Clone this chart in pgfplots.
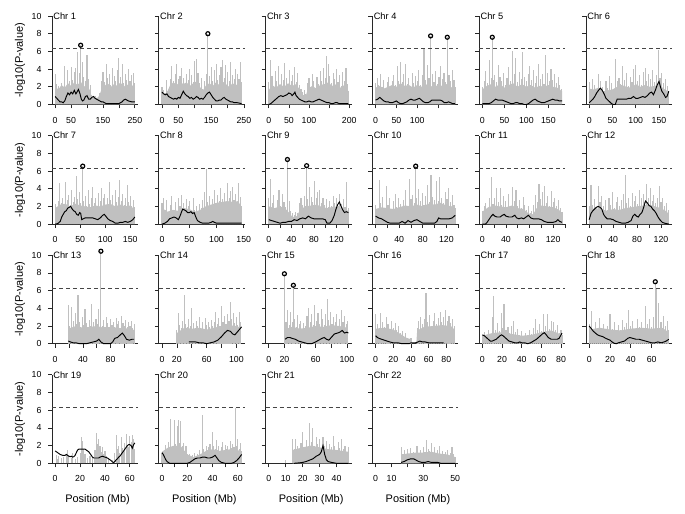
\documentclass[border=0pt]{standalone}
\usepackage{pgfplots}
\pgfplotsset{compat=1.18}
\usepackage{fontspec}
\setmainfont{Liberation Sans}
\definecolor{spk}{RGB}{192,192,192}
\definecolor{axc}{RGB}{40,40,40}
\definecolor{thrc}{RGB}{70,70,70}
\pgfplotsset{
  panel/.style={
    scale only axis, width=86bp, height=88.5bp, anchor=south west,
    ymin=0, ymax=10, ytick={0,2,4,6,8,10}, yticklabels={},
    axis x line*=bottom, axis y line*=left,
    axis line style={draw=axc, line width=0.7bp, -},
    every tick/.style={draw=axc, line width=0.7bp},
    tick align=outside, major tick length=4bp,
    tick label style={font=\fontsize{8.8}{10}\selectfont, text=black},
    xticklabel style={yshift=-5bp},
    yticklabel style={xshift=-3bp},
    clip=false,
    /pgf/number format/assume math mode=true,
    label style={font=\fontsize{11}{12}\selectfont},
  },
  firstcol/.style={yticklabels={0,2,4,6,8,10}, ylabel={-log10(P-value)},
    ylabel style={at={(axis description cs:-0.372,0.5)}, anchor=center}},
  lastrow/.style={xlabel={Position (Mb)},
    xlabel style={at={(axis description cs:0.53,0)}, anchor=center, yshift=-36.5bp}},
  spikes/.style={ycomb, draw=spk, line width=1.1bp, mark=none},
  base/.style={fill=spk, draw=none, mark=none},
  smooth line/.style={black, line width=0.95bp, mark=none},
  hits/.style={only marks, mark=o, mark size=2bp, black, line width=1.2bp},
  thrline/.style={thrc, dash pattern=on 4bp off 3bp, line width=0.8bp, mark=none},
}
\newcommand\chrtitle[1]{\node[anchor=west, font=\fontsize{9.3}{10}\selectfont, inner sep=1.2bp] at (rel axis cs:0,1) {#1};}
\begin{document}
\begin{tikzpicture}
\useasboundingbox (0,0) rectangle (685bp,514bp);

% ---------------- Row 1 ----------------
\begin{axis}[panel, firstcol, at={(52bp,409.5bp)}, xmin=-10, xmax=260,
  xtick={0,50,100,150,200,250}, xticklabels={0,50,,150,,250}]
\addplot[base] coordinates {(0,2.0)(10,1.7)(20,2.2)(30,1.9)(40,2.4)(50,2.1)(60,2.5)(70,2.2)(80,2.6)(90,2.0)(100,2.3)(110,1.5)(115,0.8)(125,0.7)(135,0.8)(145,1.6)(155,2.1)(165,2.4)(175,2.0)(185,2.3)(195,2.1)(205,2.5)(215,2.0)(225,2.3)(235,1.9)(245,2.2)(250,1.8)} \closedcycle;
\addplot[spikes] coordinates {(0,3.5)(5,2.3)(10,2.1)(15,1.9)(20,2.4)(25,1.6)(30,4.4)(35,2.0)(40,3.9)(45,2.6)(50,4.2)(55,2.8)(60,3.7)(65,4.1)(70,5.9)(75,3.6)(80,6.7)(85,4.8)(90,3.1)(95,2.7)(100,5.6)(105,2.9)(110,2.2)(115,1.1)(120,0.7)(125,1.0)(130,0.6)(135,0.9)(140,1.3)(145,2.6)(150,3.7)(155,2.5)(160,4.6)(165,3.0)(170,3.4)(175,2.2)(180,4.1)(185,3.2)(190,2.6)(195,3.9)(200,5.3)(205,3.1)(210,4.6)(215,2.4)(220,3.5)(225,2.8)(230,4.0)(235,2.7)(240,3.3)(245,3.6)(250,2.4)};
\addplot[thrline] coordinates {(-10,6.3)(260,6.3)};
\addplot[smooth line] coordinates {(0,0.9)(5,0.7)(10,0.5)(15,0.3)(20,0.3)(25,0.2)(30,0.4)(35,0.9)(40,1.3)(45,1.1)(50,1.4)(55,1.2)(60,1.6)(65,1.2)(70,1.5)(73,1.7)(78,1.2)(82,0.6)(86,0.4)(90,0.5)(95,0.9)(100,1.0)(105,0.6)(110,0.6)(115,0.8)(120,0.9)(125,0.7)(130,0.6)(135,0.5)(140,0.4)(145,0.3)(150,0.3)(155,0.2)(160,0.1)(170,0.1)(180,0.1)(190,0.1)(200,0.1)(205,0.2)(210,0.3)(215,0.5)(220,0.6)(225,0.5)(230,0.4)(240,0.3)(250,0.3)};
\addplot[hits] coordinates {(80,6.7)};
\chrtitle{Chr 1}
\end{axis}

\begin{axis}[panel, at={(158.8bp,409.5bp)}, xmin=-9.72, xmax=252.72,
  xtick={0,50,100,150,200,250}, xticklabels={0,50,,150,,250}]
\addplot[base] coordinates {(0,1.4)(10,1.2)(18,1.6)(25,2.2)(35,2.5)(45,2.2)(55,2.6)(65,2.3)(75,2.5)(85,2.1)(95,2.4)(105,2.6)(115,2.0)(125,1.6)(135,2.2)(145,2.4)(155,2.1)(165,2.5)(175,2.2)(185,2.6)(195,2.3)(205,2.0)(215,2.4)(225,2.2)(235,2.3)(243,1.8)} \closedcycle;
\addplot[spikes] coordinates {(0,2.0)(5,1.6)(10,1.3)(15,2.8)(20,1.5)(25,2.9)(30,4.3)(35,2.6)(40,3.4)(45,4.6)(50,2.9)(55,3.2)(60,4.1)(65,3.0)(70,2.2)(75,3.5)(80,2.8)(85,4.0)(90,3.3)(95,2.5)(100,4.9)(105,5.1)(110,3.6)(115,2.4)(120,3.0)(125,1.8)(130,2.7)(135,3.4)(140,8.0)(145,3.2)(150,4.2)(155,2.6)(160,3.9)(165,4.6)(170,2.8)(175,3.3)(180,4.2)(185,5.0)(190,3.0)(195,4.5)(200,3.7)(205,2.6)(210,4.8)(215,3.3)(220,2.9)(225,4.0)(230,3.5)(235,2.9)(240,4.8)(243,2.5)};
\addplot[thrline] coordinates {(-9.72,6.3)(252.72,6.3)};
\addplot[smooth line] coordinates {(0,1.4)(5,1.2)(10,1.1)(15,1.2)(20,0.9)(25,0.8)(30,0.7)(35,0.6)(40,0.7)(45,0.6)(50,0.8)(55,0.7)(60,1.1)(65,1.5)(70,1.2)(75,1.0)(80,0.9)(85,0.7)(90,0.8)(95,0.6)(100,0.7)(105,0.9)(110,0.8)(115,0.6)(120,0.7)(125,0.6)(130,0.8)(135,1.1)(140,1.3)(145,1.4)(150,1.1)(155,0.8)(160,0.6)(165,0.4)(170,0.4)(175,0.5)(180,0.5)(185,0.7)(190,0.8)(195,0.6)(200,0.5)(205,0.4)(210,0.3)(215,0.3)(220,0.2)(230,0.2)(243,0.1)};
\addplot[hits] coordinates {(140,8.0)};
\chrtitle{Chr 2}
\end{axis}

\begin{axis}[panel, at={(265.6bp,409.5bp)}, xmin=-7.92, xmax=205.92,
  xtick={0,50,100,150,200}, xticklabels={0,50,100,,200}]
\addplot[base] coordinates {(0,1.6)(8,2.2)(18,1.9)(28,2.3)(38,2.0)(48,2.4)(58,2.1)(68,2.3)(78,1.6)(84,1.1)(92,1.0)(98,1.8)(108,2.1)(118,1.8)(128,2.2)(138,2.3)(148,2.5)(158,2.1)(168,2.3)(178,1.9)(188,2.2)(198,1.5)} \closedcycle;
\addplot[spikes] coordinates {(0,2.5)(4,5.0)(8,3.2)(12,2.1)(16,3.8)(20,2.6)(24,4.4)(28,2.0)(32,3.5)(36,2.8)(40,4.7)(44,3.0)(48,2.3)(52,3.9)(56,2.7)(60,3.3)(64,4.2)(68,2.5)(72,3.6)(76,2.2)(80,1.8)(84,1.4)(88,1.6)(92,1.2)(96,2.4)(100,3.0)(104,2.0)(108,3.4)(112,2.6)(116,1.9)(120,3.1)(124,2.3)(128,3.8)(132,2.7)(136,4.1)(140,3.0)(144,5.5)(148,4.6)(152,3.2)(156,2.4)(160,3.6)(164,2.9)(168,4.0)(172,2.5)(176,3.3)(180,2.1)(184,3.7)(188,2.6)(192,4.1)(196,2.3)(198,1.5)};
\addplot[thrline] coordinates {(-7.92,6.3)(205.92,6.3)};
\addplot[smooth line] coordinates {(0,0)(5,0.1)(10,0.3)(15,0.5)(20,0.7)(25,0.9)(30,1.0)(35,0.9)(40,1.0)(45,1.1)(50,1.3)(55,1.2)(58,1.0)(62,1.2)(65,1.4)(68,1.0)(72,0.8)(76,0.6)(80,0.5)(85,0.4)(90,0.3)(95,0.3)(100,0.4)(105,0.3)(110,0.3)(115,0.4)(120,0.5)(125,0.6)(130,0.5)(135,0.4)(140,0.3)(145,0.2)(150,0.2)(155,0.1)(160,0.1)(165,0.2)(170,0.2)(175,0.1)(180,0.1)(185,0.1)(190,0.1)(198,0.1)};
\chrtitle{Chr 3}
\end{axis}

\begin{axis}[panel, at={(372.4bp,409.5bp)}, xmin=-7.64, xmax=198.64,
  xtick={0,50,100,150}, xticklabels={0,50,100,}]
\addplot[base] coordinates {(0,1.9)(10,2.1)(20,1.8)(30,2.0)(40,2.2)(50,2.0)(60,2.4)(70,2.1)(80,2.2)(90,1.9)(100,2.2)(110,2.0)(120,2.3)(130,2.1)(140,2.0)(150,2.2)(160,2.1)(170,2.3)(180,2.0)(191,1.7)} \closedcycle;
\addplot[spikes] coordinates {(0,2.4)(4,3.0)(8,2.2)(12,3.4)(16,2.0)(20,2.8)(24,1.9)(28,2.5)(32,3.1)(36,2.0)(40,2.7)(44,3.3)(48,2.2)(52,4.3)(56,2.6)(60,4.8)(64,2.5)(68,3.5)(72,4.6)(76,2.3)(80,3.0)(84,2.1)(88,3.6)(92,2.4)(96,3.2)(100,2.6)(104,3.9)(108,2.2)(112,3.3)(116,6.3)(120,2.8)(124,4.5)(128,3.0)(132,7.75)(136,3.4)(140,2.5)(144,3.8)(148,2.3)(152,3.1)(156,4.3)(160,2.9)(164,3.6)(168,2.5)(172,7.6)(176,3.3)(180,2.6)(184,3.9)(188,2.8)(191,2.0)};
\addplot[thrline] coordinates {(-7.64,6.3)(198.64,6.3)};
\addplot[smooth line] coordinates {(0,0.5)(5,0.6)(10,0.8)(15,0.6)(20,0.4)(25,0.3)(30,0.3)(35,0.2)(40,0.2)(45,0.3)(50,0.4)(55,0.2)(60,0.1)(65,0.1)(70,0.2)(75,0.3)(80,0.5)(85,0.6)(90,0.5)(95,0.5)(100,0.6)(105,0.7)(110,0.5)(115,0.3)(120,0.2)(125,0.2)(130,0.3)(135,0.5)(140,0.5)(145,0.5)(150,0.5)(155,0.5)(160,0.4)(165,0.2)(170,0.2)(175,0.3)(180,0.2)(185,0.1)(191,0.1)};
\addplot[hits] coordinates {(132,7.75)(172,7.6)};
\chrtitle{Chr 4}
\end{axis}

\begin{axis}[panel, at={(479.2bp,409.5bp)}, xmin=-7.24, xmax=188.24,
  xtick={0,50,100,150}, xticklabels={0,50,100,150}]
\addplot[base] coordinates {(0,1.7)(10,2.1)(20,2.3)(30,2.0)(40,2.3)(50,1.9)(60,2.2)(70,2.4)(80,2.0)(90,2.3)(100,2.0)(110,2.2)(120,1.9)(130,2.1)(140,2.0)(150,2.2)(160,2.0)(170,1.9)(181,1.5)} \closedcycle;
\addplot[spikes] coordinates {(0,2.0)(4,2.6)(8,3.8)(12,2.4)(16,5.0)(20,3.0)(22.5,7.6)(25,2.8)(28,3.3)(32,2.5)(36,4.5)(40,3.1)(44,2.6)(48,3.6)(52,2.2)(56,3.0)(60,4.2)(64,2.7)(68,6.0)(72,3.4)(76,5.2)(80,2.5)(84,3.7)(88,2.9)(92,5.9)(96,3.1)(100,2.6)(104,3.5)(108,4.4)(112,2.8)(116,3.9)(120,2.4)(124,3.2)(128,4.6)(132,2.9)(136,3.4)(140,2.3)(144,5.6)(148,3.6)(152,2.6)(156,4.0)(160,2.8)(164,3.5)(168,2.4)(172,3.1)(176,2.2)(180,1.8)};
\addplot[thrline] coordinates {(-7.24,6.3)(188.24,6.3)};
\addplot[smooth line] coordinates {(0,0.1)(5,0.1)(10,0.1)(15,0.1)(20,0.2)(25,0.4)(30,0.6)(35,0.5)(40,0.5)(45,0.5)(50,0.4)(55,0.3)(60,0.2)(65,0.1)(70,0.1)(75,0.2)(80,0.2)(85,0.1)(90,0.1)(95,0.0)(100,0.0)(105,0.1)(110,0.3)(115,0.5)(120,0.6)(125,0.4)(130,0.3)(135,0.2)(140,0.2)(145,0.3)(150,0.4)(155,0.5)(160,0.6)(165,0.5)(170,0.5)(175,0.4)(181,0.4)};
\addplot[hits] coordinates {(22.5,7.6)};
\chrtitle{Chr 5}
\end{axis}

\begin{axis}[panel, at={(586bp,409.5bp)}, xmin=-6.84, xmax=177.84,
  xtick={0,50,100,150}, xticklabels={0,50,100,150}]
\addplot[base] coordinates {(0,1.8)(10,1.7)(20,1.9)(30,1.5)(40,1.6)(50,1.7)(60,2.0)(70,2.2)(80,2.0)(90,1.9)(100,2.3)(110,2.0)(120,2.2)(130,2.0)(140,2.1)(150,2.2)(160,1.8)(171,1.4)} \closedcycle;
\addplot[spikes] coordinates {(0,2.5)(4,1.8)(8,2.9)(12,2.2)(16,1.6)(20,3.4)(24,2.6)(28,2.0)(32,1.5)(36,2.7)(40,1.9)(44,3.2)(48,2.4)(52,1.7)(56,5.1)(60,2.6)(64,3.0)(68,2.3)(72,4.3)(76,2.8)(80,3.6)(84,2.1)(88,3.1)(92,2.5)(96,4.0)(100,4.5)(104,2.7)(108,3.3)(112,2.2)(116,3.7)(120,4.1)(124,2.6)(128,3.4)(132,2.9)(136,3.9)(140,2.5)(144,3.3)(148,6.2)(152,3.0)(156,3.6)(160,2.4)(164,2.9)(168,2.1)(171,1.5)};
\addplot[thrline] coordinates {(-6.84,6.3)(177.84,6.3)};
\addplot[smooth line] coordinates {(0,0.2)(4,0.4)(8,0.6)(12,0.9)(16,1.3)(20,1.6)(24,1.85)(28,1.6)(32,1.2)(36,0.7)(40,0.5)(44,0.3)(48,0.1)(52,0.0)(56,0.0)(60,0.6)(65,0.6)(70,0.6)(75,0.6)(80,0.6)(85,0.7)(90,0.7)(95,0.9)(100,0.7)(105,0.7)(110,0.8)(115,0.9)(120,0.8)(125,1.0)(130,1.3)(134,1.4)(138,1.1)(142,1.6)(146,2.2)(150,2.6)(153,2.0)(156,1.5)(160,1.2)(164,0.8)(167,0.9)(171,1.5)};
\chrtitle{Chr 6}
\end{axis}

% ---------------- Row 2 ----------------
\begin{axis}[panel, firstcol, at={(52bp,289.9bp)}, xmin=-6.36, xmax=165.36,
  xtick={0,50,100,150}, xticklabels={0,50,100,150}]
\addplot[base] coordinates {(0,1.8)(10,2.2)(20,2.3)(30,2.0)(40,2.3)(50,2.1)(60,2.0)(70,1.9)(80,2.1)(90,2.0)(100,2.2)(110,2.3)(120,2.0)(130,2.2)(140,2.0)(150,2.1)(159,1.6)} \closedcycle;
\addplot[spikes] coordinates {(0,2.3)(3,1.8)(6,2.6)(9,4.7)(12,2.4)(15,3.0)(18,1.9)(21,4.8)(24,2.7)(27,3.3)(30,2.2)(33,3.9)(36,2.5)(39,3.1)(42,5.4)(45,2.8)(48,3.6)(51,2.4)(55,6.55)(57,2.6)(60,3.2)(63,2.0)(66,3.8)(69,2.3)(72,2.9)(75,4.2)(78,2.4)(81,3.0)(84,2.1)(87,3.5)(90,2.6)(93,4.1)(96,2.9)(99,3.4)(102,2.2)(105,3.0)(108,4.8)(111,2.7)(114,3.3)(117,2.1)(120,3.8)(123,2.5)(126,3.1)(129,5.0)(132,2.6)(135,3.4)(138,2.2)(141,3.0)(144,4.4)(147,2.5)(150,3.2)(153,2.0)(156,2.7)(159,1.9)};
\addplot[thrline] coordinates {(-6.36,6.3)(165.36,6.3)};
\addplot[smooth line] coordinates {(0,0)(5,0.05)(10,0.3)(13,0.8)(16,1.1)(19,1.4)(22,1.5)(25,1.8)(28,1.9)(31,2.0)(34,1.7)(37,1.5)(40,1.4)(43,1.1)(46,1.0)(49,1.3)(51,1.2)(53,0.5)(56,0.6)(60,0.7)(65,0.7)(70,0.7)(75,0.7)(80,0.6)(85,0.5)(90,0.7)(95,1.0)(98,1.1)(101,0.9)(105,0.6)(110,0.4)(115,0.3)(120,0.1)(125,0.1)(130,0.2)(135,0.2)(140,0.3)(145,0.2)(150,0.3)(155,0.5)(159,0.8)};
\addplot[hits] coordinates {(55,6.55)};
\chrtitle{Chr 7}
\end{axis}

\begin{axis}[panel, at={(158.8bp,289.9bp)}, xmin=-5.84, xmax=151.84,
  xtick={0,50,100,150}, xticklabels={0,50,100,150}]
\addplot[base] coordinates {(0,1.8)(10,1.4)(20,1.6)(30,1.5)(40,1.8)(50,1.7)(60,1.4)(70,1.6)(80,2.0)(90,2.2)(100,2.4)(110,2.5)(120,2.6)(130,2.5)(140,2.6)(146,1.8)} \closedcycle;
\addplot[spikes] coordinates {(0,2.4)(3,3.0)(6,1.6)(9,2.7)(12,1.3)(15,2.2)(18,3.2)(21,1.5)(24,2.5)(27,1.2)(30,2.9)(33,2.0)(36,3.3)(39,2.4)(42,1.8)(45,2.8)(48,2.1)(51,2.6)(54,1.4)(57,2.9)(60,1.6)(63,2.0)(66,1.1)(69,2.3)(72,1.8)(75,2.7)(78,3.6)(81,6.2)(84,2.5)(87,3.2)(90,2.0)(93,2.8)(96,3.9)(99,2.4)(102,3.3)(105,2.6)(108,4.1)(111,2.8)(114,3.5)(117,2.3)(120,4.6)(123,3.0)(126,3.7)(129,4.2)(132,2.7)(135,3.4)(138,2.5)(141,4.6)(144,3.1)(146,2.0)};
\addplot[thrline] coordinates {(-5.84,6.3)(151.84,6.3)};
\addplot[smooth line] coordinates {(0,0)(5,0.1)(10,0.3)(14,0.6)(18,0.7)(22,0.8)(26,0.7)(30,0.5)(33,0.9)(36,1.4)(38,1.7)(41,1.6)(44,1.5)(47,1.3)(50,1.3)(53,1.4)(56,1.2)(59,1.3)(62,0.8)(65,0.4)(70,0.2)(75,0.1)(80,0.1)(85,0.1)(90,0.2)(93,0.3)(96,0.2)(100,0.1)(110,0.1)(120,0.1)(130,0.1)(140,0.1)(146,0.1)};
\chrtitle{Chr 8}
\end{axis}

\begin{axis}[panel, at={(265.6bp,289.9bp)}, xmin=-5.64, xmax=146.64,
  xtick={0,20,40,60,80,100,120,140}, xticklabels={0,,40,,80,,120,}]
\addplot[base] coordinates {(0,2.0)(10,1.8)(20,2.0)(30,1.7)(37,1.2)(42,0.8)(50,0.9)(55,1.6)(65,2.0)(75,2.1)(85,2.2)(95,1.9)(105,1.8)(115,2.0)(125,1.9)(135,1.8)(141,1.4)} \closedcycle;
\addplot[spikes] coordinates {(0,3.0)(3,5.1)(6,2.4)(9,3.3)(12,1.8)(15,2.7)(18,3.9)(21,2.1)(24,3.4)(27,2.5)(30,1.9)(33,7.3)(36,2.6)(39,1.5)(42,1.2)(45,1.0)(48,1.4)(51,1.3)(54,2.4)(57,3.0)(60,2.2)(63,3.2)(65,2.0)(67,6.6)(69,2.8)(72,4.2)(75,3.1)(78,2.5)(81,4.9)(84,2.9)(87,3.6)(90,3.9)(93,2.4)(96,3.0)(99,2.2)(102,2.8)(105,1.9)(108,2.6)(111,2.1)(114,3.2)(117,2.4)(120,2.9)(123,2.0)(126,3.4)(129,2.3)(132,2.8)(135,1.9)(138,4.8)(141,1.8)};
\addplot[thrline] coordinates {(-5.64,6.3)(146.64,6.3)};
\addplot[smooth line] coordinates {(0,0.5)(5,0.4)(10,0.3)(15,0.2)(20,0.1)(25,0.2)(30,0.2)(35,0.3)(40,0.3)(45,0.5)(50,0.4)(55,0.6)(60,0.7)(65,0.6)(70,0.9)(75,0.7)(80,0.6)(85,0.6)(90,0.6)(95,0.6)(100,0.5)(103,0.1)(108,0.1)(112,0.4)(116,1.0)(119,1.7)(122,2.2)(125,2.5)(128,2.0)(131,1.6)(134,1.3)(137,1.4)(141,1.3)};
\addplot[hits] coordinates {(33,7.3)(67,6.6)};
\chrtitle{Chr 9}
\end{axis}

\begin{axis}[panel, at={(372.4bp,289.9bp)}, xmin=-5.4, xmax=140.4,
  xtick={0,20,40,60,80,100,120,140}, xticklabels={0,,40,,80,,120,}]
\addplot[base] coordinates {(0,1.7)(10,1.9)(20,1.8)(30,1.7)(40,1.9)(50,2.1)(60,2.0)(70,2.2)(80,2.0)(90,2.3)(100,2.2)(110,2.4)(120,2.1)(130,2.0)(135,1.6)} \closedcycle;
\addplot[spikes] coordinates {(0,2.2)(3,1.6)(6,5.0)(9,2.4)(12,3.1)(15,1.8)(18,4.3)(21,2.2)(24,3.0)(27,1.7)(30,2.6)(33,3.4)(36,1.9)(39,2.9)(42,2.3)(45,1.5)(48,2.7)(51,3.8)(54,2.1)(57,5.1)(60,2.8)(63,3.3)(66,2.4)(68,6.55)(70,3.0)(73,4.0)(76,2.6)(79,3.5)(82,2.2)(85,3.2)(88,4.4)(91,2.5)(94,5.5)(97,3.1)(100,2.7)(103,4.9)(106,2.6)(109,5.3)(112,3.0)(115,2.4)(118,3.6)(121,2.8)(124,4.1)(127,2.5)(130,3.3)(133,2.2)(135,1.8)};
\addplot[thrline] coordinates {(-5.4,6.3)(140.4,6.3)};
\addplot[smooth line] coordinates {(0,0.9)(5,0.7)(10,0.6)(15,0.4)(20,0.2)(25,0.1)(30,0.1)(35,0.1)(40,0.1)(45,0.3)(50,0.1)(55,0.4)(60,0.2)(65,0.4)(70,0.5)(75,0.3)(80,0.1)(85,0.1)(90,0.1)(95,0.1)(100,0.1)(104,0.3)(107,0.7)(110,0.6)(115,0.6)(120,0.6)(125,0.6)(130,0.7)(135,1.0)};
\addplot[hits] coordinates {(68,6.55)};
\chrtitle{Chr 10}
\end{axis}

\begin{axis}[panel, at={(479.2bp,289.9bp)}, xmin=-5.4, xmax=140.4,
  xtick={0,20,40,60,80,100,120,140}, xticklabels={0,,40,,80,,120,}]
\addplot[base] coordinates {(0,1.4)(10,1.9)(20,2.1)(30,2.0)(40,1.9)(50,2.1)(60,1.8)(70,1.7)(78,1.2)(86,1.1)(92,1.8)(100,2.1)(110,2.0)(120,1.9)(130,1.6)(135,1.2)} \closedcycle;
\addplot[spikes] coordinates {(0,1.5)(3,2.0)(6,2.4)(9,1.7)(12,2.9)(15,5.3)(18,2.3)(21,3.0)(24,4.1)(27,2.5)(30,4.1)(33,2.2)(36,3.2)(39,2.6)(42,1.9)(45,3.4)(48,2.1)(51,4.2)(54,2.6)(57,3.8)(60,2.0)(63,2.7)(66,1.8)(69,3.1)(72,2.2)(75,1.6)(78,2.0)(81,1.3)(84,1.5)(87,2.2)(90,3.3)(93,2.5)(96,4.5)(99,2.8)(102,3.6)(105,4.3)(108,2.4)(111,3.2)(114,2.1)(117,3.7)(120,2.5)(123,3.0)(126,2.0)(129,2.7)(132,1.8)(135,1.4)};
\addplot[thrline] coordinates {(-5.4,6.3)(140.4,6.3)};
\addplot[smooth line] coordinates {(0,0)(5,0)(8,0.2)(12,0.6)(15,0.9)(18,1.1)(21,0.9)(25,0.8)(30,0.8)(34,1.0)(37,1.1)(40,0.9)(45,0.8)(50,0.8)(55,1.0)(58,0.7)(62,0.6)(66,0.7)(70,0.6)(74,0.8)(78,1.0)(82,0.7)(86,0.6)(90,0.6)(95,0.6)(100,0.5)(105,0.3)(110,0.2)(115,0.2)(120,0.2)(125,0.3)(128,0.5)(131,0.3)(135,0.2)};
\chrtitle{Chr 11}
\end{axis}

\begin{axis}[panel, at={(586bp,289.9bp)}, xmin=-5.32, xmax=138.32,
  xtick={0,20,40,60,80,100,120}, xticklabels={0,,40,,80,,120}]
\addplot[base] coordinates {(0,1.6)(10,1.8)(20,1.7)(30,1.5)(40,1.7)(50,1.6)(60,1.8)(70,1.9)(80,2.0)(90,2.1)(100,2.2)(110,2.0)(120,1.8)(130,1.4)(133,1.0)} \closedcycle;
\addplot[spikes] coordinates {(0,2.0)(3,4.4)(6,2.2)(9,2.8)(12,1.9)(15,4.3)(18,2.5)(21,3.2)(24,2.0)(27,2.7)(30,1.6)(33,2.9)(36,2.2)(39,3.6)(42,1.8)(45,2.5)(48,3.1)(51,2.0)(54,2.7)(57,3.4)(60,5.5)(63,2.4)(66,3.0)(69,2.1)(72,3.5)(75,2.6)(78,3.2)(81,2.3)(84,3.8)(87,2.9)(90,3.4)(93,2.5)(96,4.5)(99,3.0)(102,4.1)(105,2.6)(108,3.3)(111,2.4)(114,3.0)(117,4.3)(120,2.5)(123,2.9)(126,2.0)(129,2.4)(132,1.6)(133,1.2)};
\addplot[thrline] coordinates {(-5.32,6.3)(138.32,6.3)};
\addplot[smooth line] coordinates {(0,0.5)(3,1.2)(6,1.5)(9,1.7)(12,1.9)(15,2.0)(18,1.9)(21,1.7)(24,1.1)(27,0.8)(30,0.6)(35,0.6)(40,0.5)(45,0.3)(50,0.2)(55,0.1)(60,0.1)(65,0.2)(70,0.4)(73,0.9)(76,1.1)(79,0.9)(82,0.8)(85,1.1)(88,1.3)(91,1.9)(94,2.6)(97,2.4)(100,2.1)(103,2.0)(106,1.7)(109,1.5)(112,1.2)(115,0.8)(118,0.5)(122,0.2)(126,0.1)(133,0.0)};
\chrtitle{Chr 12}
\end{axis}

% ---------------- Row 3 ----------------
\begin{axis}[panel, firstcol, at={(52bp,170.3bp)}, xmin=-4.6, xmax=119.6,
  xtick={0,20,40,60,80,100}, xticklabels={0,,40,,80,}]
\addplot[base] coordinates {(19,1.7)(30,2.0)(40,1.8)(50,1.9)(60,2.0)(70,1.8)(80,1.9)(90,1.8)(100,1.7)(110,1.8)(114,1.5)} \closedcycle;
\addplot[spikes] coordinates {(19,4.4)(21,2.0)(23,4.2)(25,1.8)(27,2.6)(29,3.5)(31,2.2)(33,5.5)(35,2.4)(37,1.9)(39,3.0)(41,2.1)(43,3.9)(45,2.3)(47,1.8)(49,2.7)(51,2.0)(53,4.5)(55,2.4)(57,1.9)(59,2.8)(61,2.2)(63,3.9)(65,2.5)(66,10.45)(68,2.0)(70,2.7)(72,1.9)(74,3.0)(76,2.3)(78,1.7)(80,2.8)(82,2.1)(84,2.5)(86,1.9)(88,2.9)(90,2.2)(92,2.6)(94,1.8)(96,3.1)(98,2.3)(100,2.0)(102,2.7)(104,1.9)(106,2.4)(108,2.0)(110,2.6)(112,1.8)(114,2.2)};
\addplot[thrline] coordinates {(-4.6,6.3)(119.6,6.3)};
\addplot[smooth line] coordinates {(19,0.3)(22,0.2)(26,0.1)(30,0.1)(35,0)(40,0)(45,0)(50,0.1)(55,0.2)(60,0.3)(63,0.5)(66,0.2)(70,0)(75,0)(80,0)(83,0.2)(86,0.6)(90,0.7)(94,1.0)(97,1.2)(100,0.9)(103,0.5)(107,0.4)(111,0.5)(114,0.5)};
\addplot[hits] coordinates {(66,10.45)};
\chrtitle{Chr 13}
\end{axis}

\begin{axis}[panel, at={(158.8bp,170.3bp)}, xmin=-4.28, xmax=111.28,
  xtick={0,20,40,60,80,100}, xticklabels={0,20,,60,,100}]
\addplot[base] coordinates {(20,1.2)(30,1.8)(40,1.7)(50,1.8)(60,1.6)(70,1.8)(80,2.0)(90,2.1)(100,2.0)(106,1.8)} \closedcycle;
\addplot[spikes] coordinates {(20,1.5)(22,3.5)(24,2.1)(26,1.8)(28,2.6)(30,5.5)(32,2.2)(34,1.9)(36,2.8)(38,2.0)(40,4.0)(42,2.3)(44,1.7)(46,2.6)(48,2.0)(50,3.0)(52,1.8)(54,2.4)(56,1.6)(58,2.9)(60,2.1)(62,2.5)(64,1.9)(66,2.7)(68,2.0)(70,2.4)(72,3.6)(74,2.2)(76,2.9)(78,2.0)(80,4.3)(82,2.5)(84,3.1)(86,2.2)(88,3.4)(90,2.6)(92,4.7)(94,2.8)(96,3.5)(98,2.3)(100,3.0)(102,2.1)(104,3.6)(106,2.4)};
\addplot[thrline] coordinates {(-4.28,6.3)(111.28,6.3)};
\addplot[smooth line] coordinates {(36,0.2)(40,0.2)(45,0.2)(50,0.1)(55,0.1)(60,0)(65,0.1)(70,0.2)(75,0.4)(80,0.8)(84,1.2)(88,1.5)(92,1.4)(95,1.1)(98,1.0)(101,1.3)(104,1.6)(107,1.9)};
\chrtitle{Chr 14}
\end{axis}

\begin{axis}[panel, at={(265.6bp,170.3bp)}, xmin=-4.08, xmax=106.08,
  xtick={0,20,40,60,80,100}, xticklabels={0,20,,60,,100}]
\addplot[base] coordinates {(20,1.6)(30,1.9)(40,1.7)(50,1.8)(60,2.0)(70,1.9)(80,2.1)(90,2.0)(101,1.8)} \closedcycle;
\addplot[spikes] coordinates {(20,7.9)(22,2.5)(24,3.8)(26,2.1)(28,3.6)(30,2.4)(31.5,6.6)(33,2.8)(35,1.9)(37,3.2)(39,2.2)(41,2.6)(43,1.7)(45,2.3)(47,2.0)(49,3.1)(51,4.0)(53,2.4)(55,3.3)(57,2.1)(59,4.4)(61,2.6)(63,3.5)(65,2.2)(67,3.9)(69,2.8)(71,2.1)(73,3.4)(75,5.1)(77,2.7)(79,3.6)(81,2.2)(83,3.0)(85,2.5)(87,3.3)(89,2.0)(91,2.8)(93,3.8)(95,2.4)(97,3.1)(99,2.2)(101,2.6)};
\addplot[thrline] coordinates {(-4.08,6.3)(106.08,6.3)};
\addplot[smooth line] coordinates {(21,0.5)(24,0.7)(27,0.7)(30,0.6)(34,0.5)(38,0.3)(42,0.2)(46,0.1)(50,0)(55,0)(60,0.2)(64,0.4)(68,0.6)(71,0.7)(74,0.5)(77,0.4)(80,0.7)(84,1.1)(88,1.2)(91,1.3)(94,1.5)(97,1.2)(100,1.3)(102,1.2)};
\addplot[hits] coordinates {(20,7.9)(31.5,6.6)};
\chrtitle{Chr 15}
\end{axis}

\begin{axis}[panel, at={(372.4bp,170.3bp)}, xmin=-3.6, xmax=93.6,
  xtick={0,20,40,60,80}, xticklabels={0,20,40,60,80}]
\addplot[base] coordinates {(0,1.7)(10,1.8)(20,1.6)(28,1.1)(34,0.7)(40,0.5)(41,0)(46,0)(47,1.5)(55,1.9)(65,2.0)(75,2.1)(85,2.0)(89,1.6)} \closedcycle;
\addplot[spikes] coordinates {(0,3.4)(2,2.2)(4,1.8)(6,3.5)(8,2.4)(10,1.9)(12,3.0)(14,2.2)(16,1.6)(18,2.6)(20,1.8)(22,2.3)(24,1.5)(26,2.0)(28,1.2)(30,1.4)(32,0.9)(34,1.2)(36,0.7)(38,0.5)(40,0.6)(47,1.8)(49,2.6)(51,3.0)(53,2.2)(55,2.8)(57,5.7)(59,2.4)(61,3.2)(63,2.0)(65,2.6)(67,3.5)(69,2.2)(71,2.9)(73,3.6)(75,2.4)(77,3.0)(79,3.8)(81,2.6)(83,3.1)(85,2.3)(87,2.8)(89,2.0)};
\addplot[thrline] coordinates {(-3.6,6.3)(93.6,6.3)};
\addplot[smooth line] coordinates {(0,0.9)(2,0.7)(4,0.6)(7,0.5)(10,0.4)(13,0.3)(16,0.2)(20,0.1)(25,0.1)(30,0)(35,0)(38,0)(40,0.1)(45,0.1)(48,0.2)(50,0.3)(53,0.2)(56,0.2)(60,0.1)(65,0.1)(70,0.1)(75,0.1)(77,0.1)};
\chrtitle{Chr 16}
\end{axis}

\begin{axis}[panel, at={(479.2bp,170.3bp)}, xmin=-3.24, xmax=84.24,
  xtick={0,20,40,60,80}, xticklabels={0,20,40,60,80}]
\addplot[base] coordinates {(0,0.9)(10,1.2)(20,1.3)(30,1.1)(40,0.9)(50,1.0)(60,1.3)(70,1.5)(81,1.0)} \closedcycle;
\addplot[spikes] coordinates {(0,1.0)(2,1.3)(4,0.8)(6,1.5)(8,1.1)(10,3.0)(11,5.4)(13,1.6)(15,2.3)(17,1.4)(19,3.5)(21,1.8)(22,4.5)(24,1.5)(26,1.9)(28,1.2)(30,2.0)(32,2.6)(34,1.3)(36,1.7)(38,1.0)(40,1.4)(42,0.9)(44,1.2)(46,0.8)(48,1.5)(50,1.1)(52,1.8)(54,2.8)(56,1.6)(58,2.2)(60,1.4)(62,3.4)(64,2.0)(66,3.3)(68,1.7)(70,2.6)(72,2.4)(74,1.5)(76,2.1)(78,1.2)(80,1.6)(81,1.0)};
\addplot[thrline] coordinates {(-3.24,6.3)(84.24,6.3)};
\addplot[smooth line] coordinates {(0,1.0)(2,0.9)(4,0.7)(6,0.5)(8,0.3)(10,0.3)(12,0.4)(14,0.5)(16,0.7)(18,0.9)(19.5,1.0)(21,0.9)(23,0.7)(25,0.5)(27,0.3)(30,0.2)(33,0.1)(36,0.1)(38,0.2)(40,0.1)(43,0.1)(46,0)(49,0.1)(52,0.3)(55,0.5)(58,0.8)(61,1.1)(63,1.25)(65,1.0)(67,0.7)(70,0.5)(73,0.5)(76,0.5)(78,0.6)(81,1.2)};
\chrtitle{Chr 17}
\end{axis}

\begin{axis}[panel, at={(586bp,170.3bp)}, xmin=-3.06, xmax=79.56,
  xtick={0,20,40,60}, xticklabels={0,20,40,60}]
\addplot[base] coordinates {(0,1.6)(10,1.8)(20,1.6)(30,1.5)(40,1.7)(50,1.8)(60,1.7)(70,1.8)(76.5,1.3)} \closedcycle;
\addplot[spikes] coordinates {(0,2.2)(2,3.7)(4,1.6)(6,2.5)(8,1.4)(10,2.9)(12,1.8)(14,2.2)(16,1.5)(18,2.0)(20,3.3)(22,1.7)(24,2.4)(26,1.3)(28,2.1)(30,1.6)(32,2.7)(34,1.9)(36,2.3)(38,3.8)(40,2.0)(42,2.6)(44,1.5)(46,2.8)(48,1.9)(50,2.5)(52,1.7)(54,4.3)(56,2.2)(58,2.8)(60,1.9)(62,3.0)(63.5,7.0)(65,6.3)(67,4.6)(69,2.4)(71,3.1)(73,2.0)(75,2.6)(76.5,1.5)};
\addplot[thrline] coordinates {(-3.06,6.3)(79.56,6.3)};
\addplot[smooth line] coordinates {(0,2.0)(2,1.7)(4,1.4)(6,1.2)(8,1.0)(10,0.9)(13,0.8)(16,0.6)(18,0.5)(20,0.4)(22,0.2)(24,0.05)(26,0)(28,0.1)(31,0.2)(34,0.3)(37,0.6)(39,0.7)(42,0.6)(45,0.5)(48,0.5)(51,0.4)(54,0.3)(57,0.2)(60,0.1)(63,0.1)(66,0.2)(69,0.1)(72,0.2)(74,0.3)(76.5,0.5)};
\addplot[hits] coordinates {(63.5,7.0)};
\chrtitle{Chr 18}
\end{axis}

% ---------------- Row 4 ----------------
\begin{axis}[panel, firstcol, lastrow, at={(52bp,50.7bp)}, xmin=-2.56, xmax=66.56,
  xtick={0,10,20,30,40,50,60}, xticklabels={0,,20,,40,,60}]
\addplot[spikes] coordinates {(1,0.9)(2,0.5)(3,0.8)(5,0.6)(7,0.7)(9,1.0)(10,1.5)(11,0.8)(13,0.6)(14,1.2)(16,0.5)(18,0.7)(20,1.2)(21,3.0)(22,2.5)(23,1.6)(24,1.0)(26,0.6)(28,0.8)(30,0.7)(32,1.5)(33,3.4)(34,2.2)(35,2.8)(36,1.9)(37,1.3)(38,1.8)(39,1.0)(40,1.4)(41,0.8)(43,0.6)(46,0.4)(48,1.2)(49,3.2)(50,1.6)(51,2.0)(52,1.2)(53,3.0)(54,1.7)(55,1.4)(56,2.3)(57,3.3)(58,2.0)(59,1.8)(60,3.1)(61,2.4)(62,3.2)(63,2.7)(64,1.6)};
\addplot[thrline] coordinates {(-2.56,6.3)(66.56,6.3)};
\addplot[smooth line] coordinates {(0,1.4)(1,1.3)(2,1.2)(3,1.1)(4,1.0)(5,0.95)(6,0.9)(8,0.9)(9,1.0)(10,0.9)(11,0.8)(12,0.75)(13,0.8)(14,0.7)(15,0.75)(16,0.9)(17,1.2)(18,1.5)(19,1.6)(20,1.6)(22,1.6)(24,1.6)(25,1.5)(26,1.4)(27,1.3)(28,1.1)(29,0.9)(30,0.7)(31,0.6)(33,0.6)(35,0.6)(36,0.7)(38,0.8)(40,0.7)(42,0.6)(44,0.4)(45,0.3)(46,0.15)(47,0.1)(48,0.2)(49,0.4)(50,0.5)(51,0.7)(52,0.8)(53,1.0)(54,1.2)(55,1.4)(56,1.6)(57,1.8)(58,2.0)(59,2.1)(60,2.1)(61,2.0)(62,1.7)(63,2.1)(64,2.3)};
\chrtitle{Chr 19}
\end{axis}

\begin{axis}[panel, lastrow, at={(158.8bp,50.7bp)}, xmin=-2.52, xmax=65.52,
  xtick={0,10,20,30,40,50,60}, xticklabels={0,,20,,40,,60}]
\addplot[base] coordinates {(0,1.3)(5,1.8)(10,2.0)(15,1.9)(20,1.0)(25,0.7)(30,1.0)(35,1.4)(40,1.6)(45,1.4)(50,1.5)(55,1.6)(60,1.5)(63,1.2)} \closedcycle;
\addplot[spikes] coordinates {(0,1.2)(1,1.0)(2,1.4)(3,2.1)(4,1.3)(5,2.4)(6,1.5)(7,5.0)(8,2.0)(9,1.7)(10,4.9)(11,2.2)(12,4.2)(13,4.9)(14,2.3)(15,4.8)(16,1.9)(17,2.3)(18,1.4)(19,2.0)(20,1.1)(21,0.8)(22,1.0)(23,0.6)(24,0.9)(25,0.7)(26,1.2)(27,0.8)(28,1.0)(29,0.6)(30,1.5)(31,1.0)(32,5.5)(33,1.6)(34,1.3)(35,2.0)(36,1.5)(37,1.8)(38,2.2)(39,1.4)(40,3.5)(41,2.0)(42,1.6)(43,2.6)(44,1.5)(45,2.0)(46,1.2)(47,1.8)(48,2.4)(49,1.4)(50,2.1)(51,1.6)(52,2.0)(53,1.3)(54,2.5)(55,1.7)(56,2.2)(57,1.8)(58,6.2)(59,2.0)(60,2.8)(61,1.6)(62,2.3)(63,1.4)};
\addplot[thrline] coordinates {(-2.52,6.3)(65.52,6.3)};
\addplot[smooth line] coordinates {(0,1.2)(1,1.0)(2,0.7)(3,0.4)(4,0.2)(5,0.1)(6,0)(10,0)(15,0)(20,0)(22,0.1)(24,0.3)(26,0.5)(28,0.6)(30,0.6)(32,0.7)(34,0.7)(36,0.6)(38,0.6)(40,0.7)(42,0.9)(43,0.7)(45,0.3)(47,0.1)(50,0)(55,0)(57,0.1)(59,0.3)(61,0.6)(63,1.0)};
\chrtitle{Chr 20}
\end{axis}

\begin{axis}[panel, lastrow, at={(265.6bp,50.7bp)}, xmin=-1.88, xmax=48.88,
  xtick={0,10,20,30,40}, xticklabels={0,10,20,30,40}]
\addplot[base] coordinates {(14,1.5)(20,1.8)(25,2.0)(30,1.8)(35,1.6)(40,1.5)(47,1.3)} \closedcycle;
\addplot[spikes] coordinates {(10,0.4)(14,2.7)(15,1.6)(16,2.8)(17,2.0)(18,1.4)(19,2.3)(20,3.5)(21,1.8)(22,2.6)(23,1.5)(24,4.5)(25,2.4)(26,4.0)(27,1.9)(28,3.0)(29,2.2)(30,2.8)(31,1.7)(32,3.0)(33,2.0)(34,2.5)(35,1.4)(36,2.2)(37,1.8)(38,3.1)(39,2.0)(40,1.5)(41,2.4)(42,1.7)(43,2.7)(44,1.6)(45,2.0)(46,1.3)(47,1.8)};
\addplot[thrline] coordinates {(-1.88,6.3)(48.88,6.3)};
\addplot[smooth line] coordinates {(15,0)(18,0.05)(20,0.1)(22,0.2)(24,0.35)(26,0.5)(28,0.8)(30,1.0)(31,1.3)(32,2.0)(33,1.0)(34,0.4)(35,0.2)(37,0.1)(40,0)(43,0)(47,0)};
\chrtitle{Chr 21}
\end{axis}

\begin{axis}[panel, lastrow, at={(372.4bp,50.7bp)}, xmin=-2, xmax=52,
  xtick={0,10,20,30,40,50}, xticklabels={0,10,,30,,50}]
\addplot[base] coordinates {(16,1.0)(20,1.1)(25,1.2)(30,1.2)(35,1.3)(40,1.1)(45,1.0)(50,0.7)} \closedcycle;
\addplot[spikes] coordinates {(16,1.8)(17,1.0)(18,1.5)(19,0.8)(20,1.6)(21,1.1)(22,1.7)(23,0.9)(24,1.3)(25,1.0)(26,2.0)(27,1.2)(28,1.5)(29,0.9)(30,1.8)(31,1.3)(32,2.6)(33,1.6)(34,1.4)(35,2.3)(36,1.2)(37,1.8)(38,1.1)(39,1.5)(40,2.0)(41,1.0)(42,1.4)(43,0.8)(44,1.3)(45,1.5)(46,0.9)(47,1.2)(48,1.8)(49,1.0)(50,0.7)};
\addplot[thrline] coordinates {(-2,6.3)(52,6.3)};
\addplot[smooth line] coordinates {(16,0.1)(18,0.2)(20,0.4)(22,0.5)(24,0.5)(25,0.4)(27,0.2)(29,0.1)(31,0.1)(33,0.2)(35,0.1)(37,0.1)(39,0.1)(41,0)(45,0)(50,0)};
\chrtitle{Chr 22}
\end{axis}
\end{tikzpicture}
\end{document}
